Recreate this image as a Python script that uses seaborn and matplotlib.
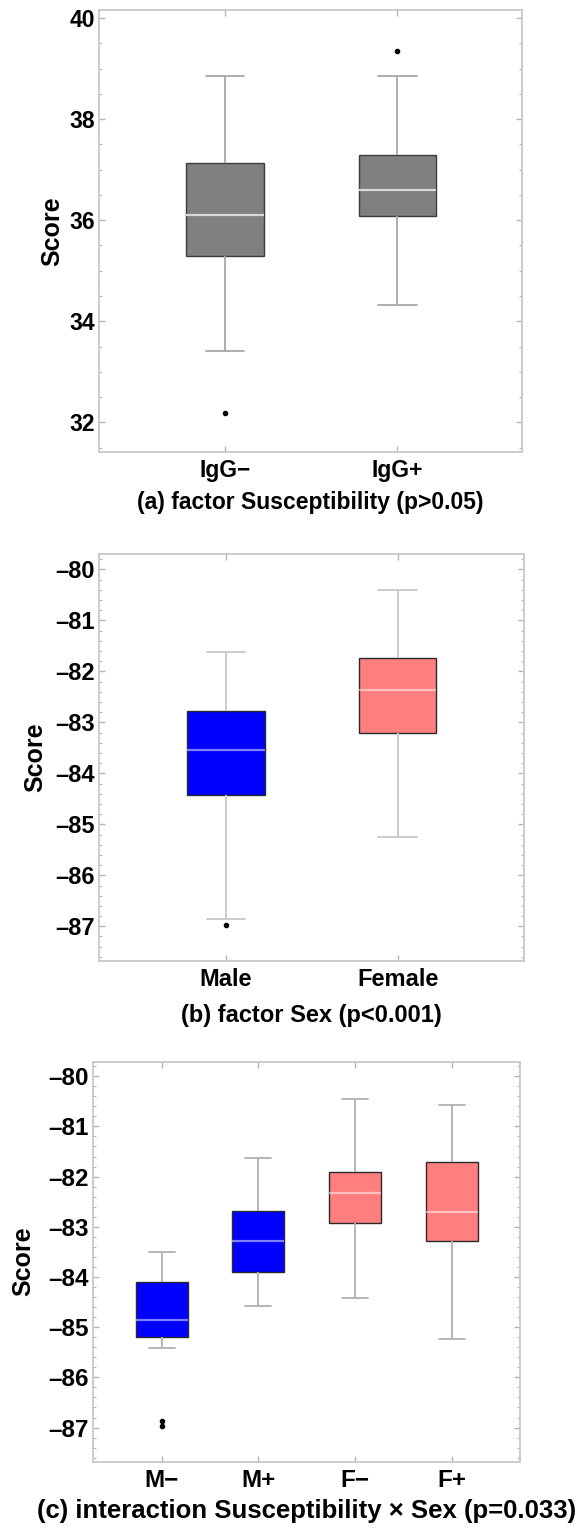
import numpy as np
import pandas as pd
import seaborn as sns
import matplotlib
import matplotlib.pyplot as plt
from matplotlib.ticker import MultipleLocator, FuncFormatter
matplotlib.use('AGG')

sns.set_theme(style="white")
plt.rcParams['font.family'] = ['Liberation Sans', 'DejaVu Sans']
plt.rcParams['font.weight'] = 'bold'
plt.rcParams['text.color'] = 'black'
plt.rcParams['axes.labelcolor'] = 'black'

# (a) factor Susceptibility - five-number summaries
sus_labels = ["IgG\u2212", "IgG+"]
sus_whislo = [33.42, 34.33]
sus_q1 = [35.29, 36.08]
sus_med = [36.11, 36.59]
sus_q3 = [37.14, 37.28]
sus_whishi = [38.86, 38.86]
sus_fliers = [[32.19], [39.35]]

# (b) factor Sex
sex_labels = ["Male", "Female"]
sex_whislo = [-86.85, -85.25]
sex_q1 = [-84.42, -83.21]
sex_med = [-83.55, -82.37]
sex_q3 = [-82.77, -81.74]
sex_whishi = [-81.62, -80.41]
sex_fliers = [[-86.97], []]

# (c) interaction Susceptibility x Sex
int_labels = ["M\u2212", "M+", "F\u2212", "F+"]
int_sex = ["Male", "Male", "Female", "Female"]
int_whislo = [-85.41, -84.57, -84.42, -85.23]
int_q1 = [-85.19, -83.90, -82.93, -83.28]
int_med = [-84.86, -83.28, -82.32, -82.70]
int_q3 = [-84.10, -82.69, -81.91, -81.71]
int_whishi = [-83.51, -81.63, -80.45, -80.58]
int_fliers = [[-86.97, -86.87], [], [], []]

SEX_COLORS = {"Male": "#0000ff", "Female": "#ff7f7f"}


def box_sample(lo, q1, med, q3, hi, fliers):
    low = [f for f in fliers if f < med] + [lo]
    high = [hi] + [f for f in fliers if f > med]
    p = max(len(low), len(high))
    low += [lo] * (p - len(low))
    high += [hi] * (p - len(high))
    return low + [q1] * p + [med] + [q3] * p + high


def long_table(labels, lo, q1, med, q3, hi, fliers, sex=None):
    rows = []
    for i, lab in enumerate(labels):
        for v in box_sample(lo[i], q1[i], med[i], q3[i], hi[i], fliers[i]):
            rows.append({"group": lab, "score": v,
                         "sex": sex[i] if sex else lab})
    return pd.DataFrame(rows)


# Mathematica-style long dash for negative tick labels
dash_fmt = FuncFormatter(lambda v, pos: f"{v:.0f}".replace("-", "\u2013"))


def style_axes(ax, ylim, major, minor, xlim, fs, xfs):
    ax.set_ylim(*ylim)
    ax.set_xlim(*xlim)
    ax.yaxis.set_major_locator(MultipleLocator(major))
    ax.yaxis.set_minor_locator(MultipleLocator(minor))
    ax.yaxis.set_major_formatter(dash_fmt)
    for s in ax.spines.values():
        s.set_visible(True)
        s.set_color('#c8c8c8')
        s.set_linewidth(1.3)
    ax.tick_params(which='both', direction='in', color='#b4b4b4',
                   labelcolor='black',
                   left=True, right=True, top=True, bottom=True)
    ax.tick_params(which='major', length=4, width=1)
    ax.tick_params(which='minor', length=2, width=0.8)
    ax.tick_params(axis='y', labelsize=fs, pad=3)
    ax.tick_params(axis='x', labelsize=xfs, pad=5)
    for t in ax.get_xticklabels() + ax.get_yticklabels():
        t.set_fontweight('bold')
    ax.set_xlabel('')
    ax.set_ylabel('Score', fontsize=18, fontweight='bold', color='black')


fig = plt.figure(figsize=(5.82, 15.28), dpi=100)

# panel (a)
ax_a = fig.add_axes([0.170, 0.7044, 0.7275, 0.2891])
df_a = long_table(sus_labels, sus_whislo, sus_q1, sus_med, sus_q3,
                  sus_whishi, sus_fliers)
sns.boxplot(data=df_a, x="group", y="score", order=sus_labels,
            color="#808080", saturation=1, width=0.45, fliersize=3, ax=ax_a,
            boxprops=dict(edgecolor="#3c3c3c", linewidth=1),
            medianprops=dict(color="#d8d8d8", linewidth=1.6),
            whiskerprops=dict(color="#a8a8a8", linewidth=1.3),
            capprops=dict(color="#a8a8a8", linewidth=1.3),
            flierprops=dict(marker='o', markerfacecolor='black',
                            markeredgecolor='black', markersize=3))
style_axes(ax_a, (31.42, 40.16), 2, 0.5, (-0.731, 1.725), 16.5, 16.5)
ax_a.yaxis.set_label_coords(-0.081, 0.5)
ax_a.text(0.5, -0.116, "(a) factor Susceptibility (p>0.05)",
          transform=ax_a.transAxes, ha='center', va='center',
          fontsize=16.5, fontweight='bold', color='black')

# panel (b)
ax_b = fig.add_axes([0.1694, 0.3711, 0.7314, 0.2662])
df_b = long_table(sex_labels, sex_whislo, sex_q1, sex_med, sex_q3,
                  sex_whishi, sex_fliers)
sns.boxplot(data=df_b, x="group", y="score", order=sex_labels, hue="sex",
            palette=SEX_COLORS, dodge=False, legend=False, saturation=1,
            width=0.45, fliersize=3, ax=ax_b,
            boxprops=dict(edgecolor="#2a2a2a", linewidth=1),
            medianprops=dict(color=(1, 1, 1, 0.5), linewidth=1.6),
            whiskerprops=dict(color="#c8c8c8", linewidth=1.3),
            capprops=dict(color="#c8c8c8", linewidth=1.3),
            flierprops=dict(marker='o', markerfacecolor='black',
                            markeredgecolor='black', markersize=3))
style_axes(ax_b, (-87.68, -79.70), 1, 0.2, (-0.741, 1.737), 17, 17)
ax_b.yaxis.set_label_coords(-0.121, 0.5)
ax_b.text(0.5, -0.135, "(b) factor Sex (p<0.001)",
          transform=ax_b.transAxes, ha='center', va='center',
          fontsize=17, fontweight='bold', color='black')

# panel (c)
ax_c = fig.add_axes([0.1593, 0.0434, 0.7342, 0.2618])
df_c = long_table(int_labels, int_whislo, int_q1, int_med, int_q3,
                  int_whishi, int_fliers, sex=int_sex)
sns.boxplot(data=df_c, x="group", y="score", order=int_labels, hue="sex",
            palette=SEX_COLORS, dodge=False, legend=False, saturation=1,
            width=0.54, fliersize=3, ax=ax_c,
            boxprops=dict(edgecolor="#2a2a2a", linewidth=1),
            medianprops=dict(color=(1, 1, 1, 0.5), linewidth=1.6),
            whiskerprops=dict(color="#b0b0b0", linewidth=1.3),
            capprops=dict(color="#b0b0b0", linewidth=1.3),
            flierprops=dict(marker='o', markerfacecolor='black',
                            markeredgecolor='black', markersize=3))
style_axes(ax_c, (-87.68, -79.71), 1, 0.2, (-0.713, 3.706), 17.5, 17.5)
ax_c.yaxis.set_label_coords(-0.135, 0.5)
ax_c.text(0.5, -0.123, "(c) interaction Susceptibility \u00d7 Sex (p=0.033)",
          transform=ax_c.transAxes, ha='center', va='center',
          fontsize=18.5, fontweight='bold', color='black')

plt.savefig('out.png', dpi=100)
